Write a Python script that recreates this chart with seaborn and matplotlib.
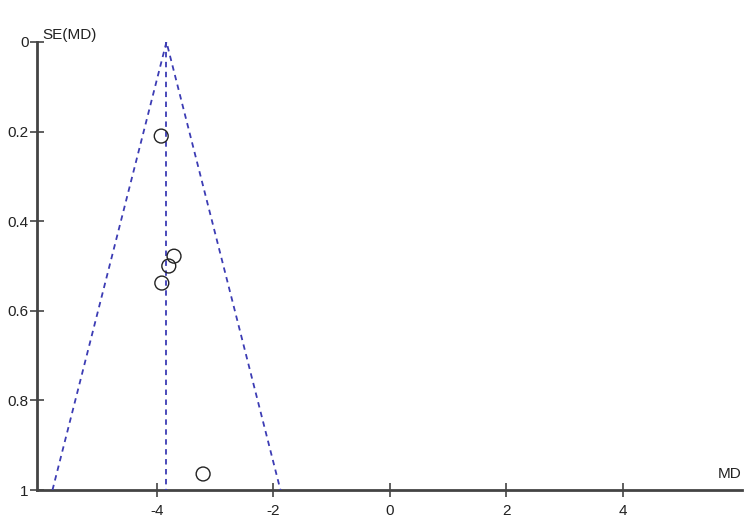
import numpy as np
import pandas as pd
import matplotlib
matplotlib.use("Agg")
import matplotlib.pyplot as plt
import seaborn as sns

# study estimates
md = [-3.93, -3.71, -3.80, -3.92, -3.21]
se = [0.21, 0.478, 0.50, 0.538, 0.964]
pooled_md = -3.84
se_max = 1.0
xticks = [-4, -2, 0, 2, 4]
yticks = [0, 0.2, 0.4, 0.6, 0.8, 1]
yticklabels = ["0", "0.2", "0.4", "0.6", "0.8", "1"]

df = pd.DataFrame({"MD": md, "SE": se})

sns.set_style("white")
plt.rcParams["font.family"] = ["Liberation Sans", "DejaVu Sans"]

fig = plt.figure(figsize=(7.5, 5.31), dpi=100)
ax = fig.add_axes([0.049, 0.077, 0.940, 0.844])

line_col = "#3c3cb4"
# funnel (95% limits) and pooled estimate line
funnel = pd.DataFrame({
    "x": [pooled_md - 1.96 * se_max, pooled_md, pooled_md + 1.96 * se_max],
    "y": [se_max, 0, se_max],
})
ax.plot(funnel["x"], funnel["y"], ls=(0, (3, 2.5)), color=line_col, lw=1.3)
ax.plot([pooled_md, pooled_md], [0, se_max], ls=(0, (3, 2.5)), color=line_col, lw=1.3)

sns.scatterplot(data=df, x="MD", y="SE", ax=ax, s=100, facecolor="none",
                edgecolor="#222222", linewidth=1.0, zorder=3)

ax.set_xlim(-6.07, 6.05)
ax.set_ylim(1.0, 0.0)
ax.set_xticks(xticks)
ax.set_xticklabels([str(t) for t in xticks])
ax.set_yticks(yticks)
ax.set_yticklabels(yticklabels)
ax.set_xlabel("")
ax.set_ylabel("")

for side in ["top", "right"]:
    ax.spines[side].set_visible(False)
for side in ["left", "bottom"]:
    ax.spines[side].set_color("#444444")
    ax.spines[side].set_linewidth(2)
    ax.spines[side].set_zorder(1)
ax.tick_params(axis="both", direction="inout", length=10, width=1.2,
               color="#444444", labelsize=11, labelcolor="#222222", pad=1,
               bottom=True, left=True)
ax.tick_params(axis="x", pad=5)

ax.text(0.008, 1.0, "SE(MD)", transform=ax.transAxes, fontsize=11,
        color="#222222", ha="left", va="bottom")
ax.text(1.0, 0.02, "MD", transform=ax.transAxes, fontsize=11,
        color="#222222", ha="right", va="bottom")

fig.savefig("out.png", dpi=100)
